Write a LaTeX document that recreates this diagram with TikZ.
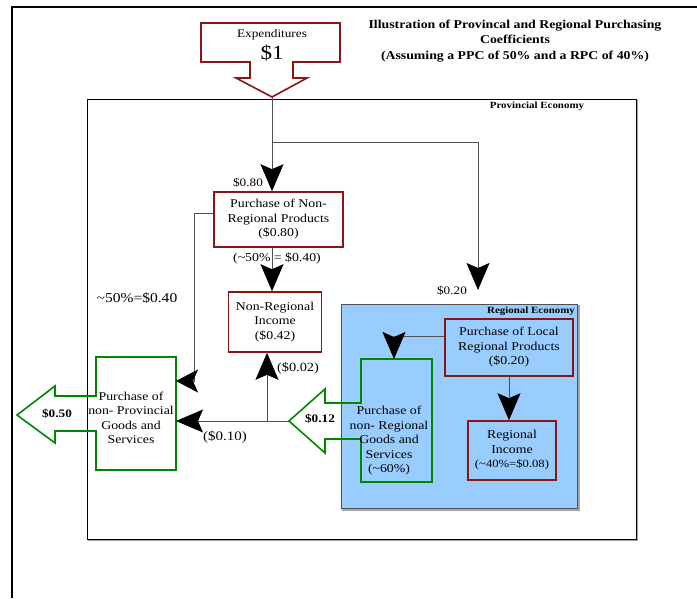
\documentclass[tikz,border=0pt]{standalone}
\usepackage{fontspec}
\setmainfont{Liberation Serif}[FakeStretch=1.15]
\usetikzlibrary{arrows.meta,calc}
\definecolor{dred}{RGB}{140,20,20}
\definecolor{dgreen}{RGB}{0,135,0}
\definecolor{regblue}{RGB}{153,204,255}
\definecolor{lgray}{RGB}{80,80,80}
\begin{document}
\begin{tikzpicture}[x=1pt,y=-1pt,
  redbox/.style={draw=dred, line width=1.6pt, align=center, inner sep=0pt, font=\fontsize{12}{14.5}\selectfont},
  greenshape/.style={draw=dgreen, line width=1.6pt},
  txt/.style={align=center, inner sep=0pt, font=\fontsize{12}{14.5}\selectfont},
  conn/.style={draw=lgray, line width=0.8pt},
  arr/.style={conn, -{Stealth[length=27pt,width=23pt,inset=5pt,color=black]}},
  sarr/.style={conn, -{Stealth[length=22pt,width=23pt,inset=5pt,color=black]}},
  lbl/.style={inner sep=0pt, font=\fontsize{11.5}{13}\selectfont},
  blbl/.style={inner sep=0pt, font=\bfseries\fontsize{9.5}{11}\selectfont},
]
\useasboundingbox (0,0) rectangle (697,598);
% page frame
\draw[line width=1.5pt] (12,598) -- (12,7) -- (697,7);
% provincial economy
\draw[draw=gray!70, line width=1.4pt] (88.5,100.5) rectangle (637.5,540.5);
\draw[fill=white, draw=black, line width=0.8pt] (87,99) rectangle (636,539);
\node[blbl] (prov) at (537,106) {Provincial Economy};
% regional economy
\draw[draw=gray!70, line width=1.5pt] (343,306) rectangle (579,510);
\draw[fill=regblue, draw=lgray, line width=0.8pt] (341,304) rectangle (577,508);
\node[blbl] (reg) at (531,311) {Regional Economy};
% title
\node[align=center, inner sep=0pt, font=\bfseries\fontsize{12}{15.5}\selectfont] (title) at (515,41)
  {Illustration of Provincal and Regional Purchasing\\Coefficients\\(Assuming a PPC of 50\% and a RPC of 40\%)};
% expenditures block arrow
\draw[draw=dred, line width=1.6pt, fill=white] (201,23) -- (340,23) -- (340,62) -- (293,62) -- (293,78) -- (307,78)
  -- (272,97) -- (236,78) -- (250,78) -- (250,62) -- (201,62) -- cycle;
\node[inner sep=0pt, font=\fontsize{11.5}{13}\selectfont] (exptext) at (272,35) {Expenditures};
\node[inner sep=0pt, font=\fontsize{20}{22}\selectfont] (expamt) at (272,53) {\$1};
\coordinate (exptip) at (272,97);
\coordinate (branch) at (272,142);
\coordinate (regtip) at (478,290);
% boxes
\node[redbox, fill=white, minimum width=129pt, minimum height=55pt] (pnr) at (278.5,219.5)
  {Purchase of Non-\\Regional Products\\(\$0.80)};
\node[redbox, fill=white, minimum width=93pt, minimum height=60pt] (nri) at (275,322)
  {Non-Regional\\Income\\(\$0.42)};
\node[redbox, minimum width=128pt, minimum height=57pt] (plr) at (509,347.5)
  {Purchase of Local\\Regional Products\\(\$0.20)};
\node[redbox, minimum width=88pt, minimum height=59pt] (ri) at (512,450.5)
  {Regional\\Income\\{\fontsize{11}{14.5}\selectfont(\textasciitilde40\%=\$0.08)}};
% green shapes
\draw[greenshape] (96,357) -- (176,357) -- (176,470) -- (96,470) -- (96,431) -- (55,431) -- (55,443)
  -- (17,415) -- (55,386) -- (55,396) -- (96,396) -- cycle;
\draw[greenshape] (361,359) -- (432,359) -- (432,482) -- (361,482) -- (361,439) -- (325,439) -- (325,453)
  -- (289,421) -- (325,389) -- (325,403) -- (361,403) -- cycle;
\node[txt] (npg) at (131,418) {Purchase of\\non- Provincial\\Goods and\\Services};
\node[txt] (nrg) at (389,441) {Purchase of\\non- Regional\\Goods and\\Services\\(\textasciitilde60\%)};
\coordinate (npgR) at (176,413.5);
\coordinate (nrgT) at (394,359);
\coordinate (nrgtip) at (289,421);
\coordinate (j) at (267,421);
% connectors
\draw[arr] (exptip) -- (exptip |- pnr.north);
\draw[arr] (branch) -| (regtip);
\draw[arr] (pnr.south -| exptip) -- (exptip |- nri.north);
\draw[sarr] ([yshift=6.5pt]pnr.west) -- ++(-19,0) |- (npgR |- 0,381);
\draw[arr] (nrgtip) -- (npgR |- nrgtip);
\draw[arr] (j) -- (j |- nri.south);
\draw[arr] ([yshift=11.5pt]plr.west) -| (nrgT);
\draw[arr] (plr.south) -- (plr.south |- ri.north);
% labels
\node[lbl] (l080) at (248,183) {\$0.80};
\node[lbl, font=\fontsize{12}{13}\selectfont] (l040a) at (277,258) {(\textasciitilde50\% = \$0.40)};
\node[lbl, font=\fontsize{13.5}{15}\selectfont] (l040b) at (137,298) {\textasciitilde50\%=\$0.40};
\node[lbl] (l020) at (452,291) {\$0.20};
\node[lbl, font=\fontsize{12.5}{14}\selectfont] (l002) at (298,368) {(\$0.02)};
\node[lbl, font=\fontsize{13}{14}\selectfont] (l010) at (225,437) {(\$0.10)};
\node[lbl, font=\bfseries\fontsize{11.5}{13}\selectfont] (l012) at (320,419) {\$0.12};
\node[lbl, font=\bfseries\fontsize{11.5}{13}\selectfont] (l050) at (57,414) {\$0.50};
\end{tikzpicture}
\end{document}
